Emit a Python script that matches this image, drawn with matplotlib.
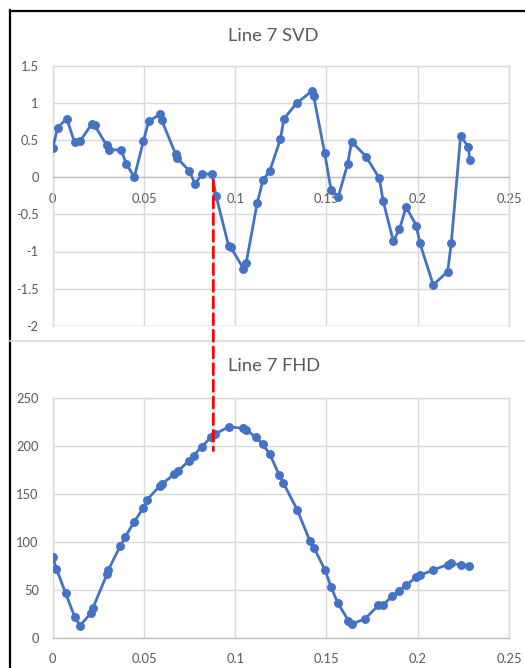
import matplotlib
matplotlib.use("Agg")
import matplotlib.pyplot as plt
from matplotlib.patches import ConnectionPatch
from matplotlib.lines import Line2D

plt.rcParams['font.family'] = ['Lato', 'DejaVu Sans']

# ---- data: Line 7 SVD ----
svd_x = [0.0, 0.0027, 0.0077, 0.012, 0.015, 0.0214, 0.023, 0.0296, 0.031, 0.0374,
         0.0404, 0.0447, 0.0497, 0.0526, 0.0588, 0.0597, 0.0674, 0.068, 0.0747, 0.078,
         0.082, 0.0873, 0.0895, 0.0964, 0.0975, 0.1045, 0.106, 0.112, 0.1152, 0.119,
         0.1247, 0.1267, 0.1337, 0.1419, 0.143, 0.149, 0.1525, 0.1565, 0.1616, 0.1638,
         0.1717, 0.179, 0.181, 0.1866, 0.19, 0.1936, 0.1992, 0.2012, 0.2085, 0.2164,
         0.2184, 0.2235, 0.2277, 0.2285]
svd_y = [0.39, 0.67, 0.79, 0.47, 0.485, 0.72, 0.70, 0.43, 0.37, 0.37,
         0.18, 0.0, 0.49, 0.755, 0.85, 0.77, 0.31, 0.265, 0.09, -0.085,
         0.045, 0.045, -0.25, -0.925, -0.94, -1.23, -1.155, -0.35, -0.04, 0.09,
         0.51, 0.79, 1.0, 1.16, 1.09, 0.33, -0.17, -0.26, 0.18, 0.48,
         0.28, -0.015, -0.315, -0.86, -0.70, -0.40, -0.65, -0.89, -1.45, -1.27,
         -0.88, 0.56, 0.41, 0.23]

# ---- data: Line 7 FHD ----
fhd_x = [0.0, 0.002, 0.0071, 0.012, 0.015, 0.0212, 0.0221, 0.0298, 0.0305, 0.0369,
         0.0396, 0.0446, 0.0497, 0.0517, 0.0588, 0.0599, 0.0667, 0.0685, 0.0745, 0.0772,
         0.0816, 0.0867, 0.0889, 0.0966, 0.1045, 0.1059, 0.1114, 0.115, 0.119, 0.1242,
         0.1264, 0.134, 0.141, 0.1432, 0.1492, 0.1525, 0.1561, 0.162, 0.1642, 0.1711,
         0.1784, 0.1808, 0.1861, 0.1899, 0.1936, 0.1992, 0.2012, 0.2084, 0.2164, 0.2184,
         0.2235, 0.2283]
fhd_y = [84.5, 72.4, 46.7, 22.5, 13.2, 26.7, 31.9, 66.8, 71.0, 95.6,
         104.9, 120.8, 135.7, 144.0, 158.6, 160.3, 170.7, 173.5, 184.2, 189.7,
         199.1, 208.8, 212.3, 219.9, 218.1, 216.8, 208.8, 201.9, 191.1, 169.3,
         161.4, 133.3, 100.8, 93.8, 71.0, 53.3, 37.0, 18.4, 15.2, 20.1,
         34.3, 34.3, 44.0, 49.5, 55.0, 63.7, 65.4, 71.0, 76.5, 77.9,
         76.2, 75.1]

x_ticks = [0, 0.05, 0.1, 0.15, 0.2, 0.25]
x_tick_labels = ['0', '0.05', '0.1', '0.15', '0.2', '0.25']
svd_yticks = [-2, -1.5, -1, -0.5, 0, 0.5, 1, 1.5]
svd_ytick_labels = ['-2', '-1.5', '-1', '-0.5', '0', '0.5', '1', '1.5']
fhd_yticks = [0, 50, 100, 150, 200, 250]
fhd_ytick_labels = ['0', '50', '100', '150', '200', '250']
marker_x = 0.088
marker_fhd_end = 195

W, H = 525, 668
fig = plt.figure(figsize=(W / 100, H / 100), dpi=100)
fig.patch.set_facecolor('white')

BLUE = '#4472C4'
GRID = '#D9D9D9'
TXT = '#595959'


def fx(px):
    return px / W


def fy(py):
    return 1 - py / H


left = fx(52.7)
width = fx(509) - left
ax1 = fig.add_axes([left, fy(325.7), width, fy(66) - fy(325.7)])
ax2 = fig.add_axes([left, fy(638.3), width, fy(397.7) - fy(638.3)])

for ax in (ax1, ax2):
    ax.set_facecolor('white')
    ax.set_xlim(0, 0.25)
    ax.set_xticks(x_ticks)
    ax.set_xticklabels(x_tick_labels)
    ax.grid(True, color=GRID, linewidth=1.0)
    ax.set_axisbelow(True)
    for s in ax.spines.values():
        s.set_color(GRID)
        s.set_linewidth(1.0)
    ax.tick_params(length=0, labelsize=9.3, labelcolor=TXT)

# top chart
ax1.plot(svd_x, svd_y, color=BLUE, linewidth=2.0, marker='o', markersize=5.4,
         markerfacecolor=BLUE, markeredgecolor=BLUE, zorder=3)
ax1.set_ylim(-2, 1.5)
ax1.set_yticks(svd_yticks)
ax1.set_yticklabels(svd_ytick_labels)
ax1.spines['bottom'].set_position(('data', 0))
ax1.spines['bottom'].set_color('#BFBFBF')
ax1.tick_params(axis='x', pad=11.5)
ax1.tick_params(axis='y', pad=10)
ax1.axhline(-2, color=GRID, linewidth=1.0, zorder=0)

# bottom chart
ax2.plot(fhd_x, fhd_y, color=BLUE, linewidth=2.0, marker='o', markersize=5.4,
         markerfacecolor=BLUE, markeredgecolor=BLUE, zorder=3)
ax2.set_ylim(0, 250)
ax2.set_yticks(fhd_yticks)
ax2.set_yticklabels(fhd_ytick_labels)
ax2.spines['bottom'].set_color('#BFBFBF')
ax2.tick_params(axis='x', pad=10.5)
ax2.tick_params(axis='y', pad=10)

# titles
fig.text(fx(273), fy(36), 'Line 7 SVD', ha='center', va='center', fontsize=13.2, color=TXT)
fig.text(fx(274), fy(366), 'Line 7 FHD', ha='center', va='center', fontsize=13.2, color=TXT)

# frame lines
fig.add_artist(Line2D([fx(10), fx(10)], [fy(10), 0], transform=fig.transFigure,
                      color='black', linewidth=1.6))
fig.add_artist(Line2D([fx(10), 1], [fy(10.5), fy(10.5)], transform=fig.transFigure,
                      color='black', linewidth=1.6))
fig.add_artist(Line2D([fx(10), 1], [fy(340.5), fy(340.5)], transform=fig.transFigure,
                      color='#D9D9D9', linewidth=1.2))

# red dashed connector
con = ConnectionPatch(xyA=(marker_x, -0.04), coordsA=ax1.transData,
                      xyB=(marker_x, marker_fhd_end), coordsB=ax2.transData,
                      color='#FF0000', linewidth=2.0, linestyle=(0, (4, 2)), zorder=10)
fig.add_artist(con)

fig.savefig('out.png', dpi=100, facecolor='white')
